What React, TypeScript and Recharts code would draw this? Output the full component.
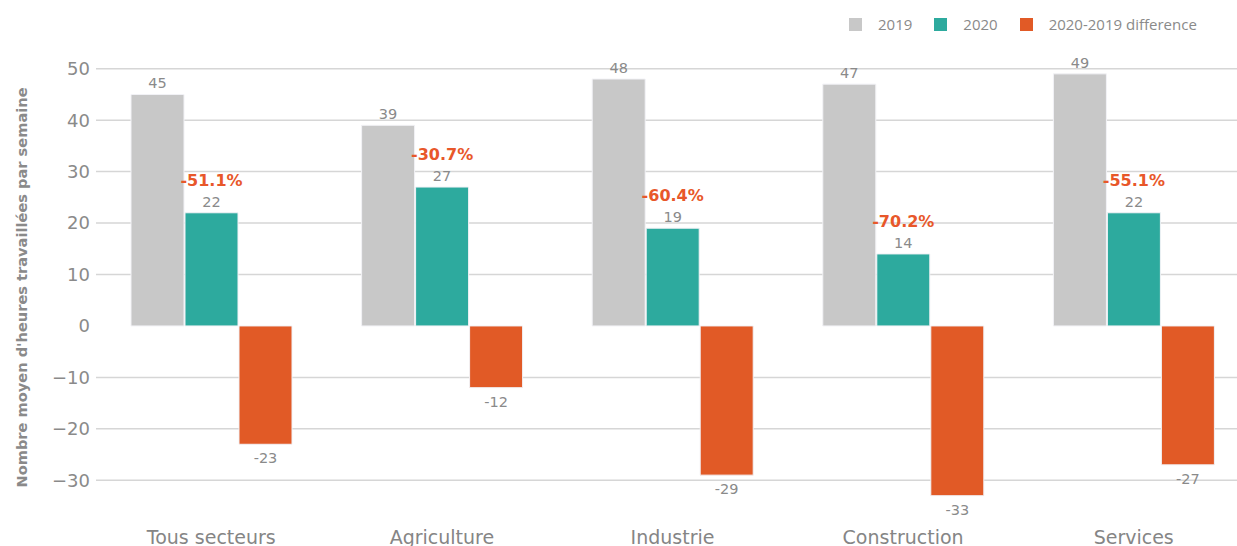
import { BarChart, Bar, XAxis, YAxis, CartesianGrid, LabelList } from "recharts";

const SECTORS = ["Tous secteurs", "Agriculture", "Industrie", "Construction", "Services"];
const HOURS_2019 = [45, 39, 48, 47, 49];
const HOURS_2020 = [22, 27, 19, 14, 22];
const DIFFERENCE = [-23, -12, -29, -33, -27];
const PCT_CHANGE = ["-51.1%", "-30.7%", "-60.4%", "-70.2%", "-55.1%"];
const Y_TICKS = [-30, -20, -10, 0, 10, 20, 30, 40, 50];
const GRID_VALUES = [-30, -20, -10, 10, 20, 30, 40, 50];

const GREY = "#C8C8C8";
const TEAL = "#2DAA9E";
const ORANGE = "#E15A26";
const TEXT = "#8A8A8A";
const FONT = "'DejaVu Sans', Verdana, sans-serif";

const data = SECTORS.map((name, i) => ({
  name,
  y2019: HOURS_2019[i],
  y2020: HOURS_2020[i],
  diff: DIFFERENCE[i],
  pct: PCT_CHANGE[i],
}));

// value above positive bars, below negative ones
const ValueLabel = (props: any) => {
  const { x, y, width, height, value } = props;
  const top = Math.min(y, y + height);
  const bottom = Math.max(y, y + height);
  const cx = x + width / 2;
  return (
    <text
      x={cx}
      y={value >= 0 ? top - 6 : bottom + 19}
      textAnchor="middle"
      fill={TEXT}
      fontSize={14.5}
      fontFamily={FONT}
    >
      {String(value)}
    </text>
  );
};

const PctLabel = (props: any) => {
  const { x, y, width, value } = props;
  return (
    <text
      x={x + width / 2}
      y={y - 27}
      textAnchor="middle"
      fill="#E8572A"
      fontSize={16}
      fontWeight="bold"
      fontFamily={FONT}
    >
      {value}
    </text>
  );
};

const legendItems = [
  { label: "2019", color: GREY },
  { label: "2020", color: TEAL },
  { label: "2020-2019 difference", color: ORANGE },
];

export default function App() {
  return (
    <div
      style={{
        position: "absolute",
        left: 0,
        top: 0,
        width: 1237,
        height: 546,
        overflow: "hidden",
        background: "#fff",
      }}
    >
      <div
        style={{
          position: "absolute",
          left: 849,
          top: 14,
          display: "flex",
          alignItems: "center",
          fontFamily: "'Open Sans', sans-serif",
          fontSize: 15,
          color: TEXT,
          zIndex: 2,
          whiteSpace: "nowrap",
        }}
      >
        {legendItems.map((it) => (
          <div key={it.label} style={{ display: "flex", alignItems: "center", marginRight: 22 }}>
            <span style={{ width: 13, height: 13, background: it.color, marginRight: 16 }} />
            <span>{it.label}</span>
          </div>
        ))}
      </div>

      <BarChart
        width={1262}
        height={560}
        data={data}
        margin={{ top: 43, right: 13, bottom: 14, left: 0 }}
        barSize={53}
        barGap={1}
      >
        <CartesianGrid
          vertical={false}
          horizontalValues={GRID_VALUES}
          stroke="#D6D6D6"
          strokeWidth={1.5}
        />
        <XAxis
          dataKey="name"
          axisLine={false}
          tickLine={false}
          tickMargin={19}
          height={40}
          tick={{ fill: "#858585", fontSize: 19, fontFamily: FONT }}
        />
        <YAxis
          type="number"
          domain={[-35, 55]}
          ticks={Y_TICKS}
          width={96}
          axisLine={false}
          tickLine={false}
          tickMargin={0}
          tickFormatter={(v: number) => String(v).replace("-", "\u2212")}
          tick={{ fill: TEXT, fontSize: 18, fontFamily: FONT }}
          label={{
            content: ({ viewBox }: any) => {
              const cx = viewBox.x + 21;
              const cy = viewBox.y + viewBox.height / 2 + 13;
              return (
                <text
                  x={cx}
                  y={cy}
                  transform={`rotate(-90, ${cx}, ${cy})`}
                  textAnchor="middle"
                  dominantBaseline="central"
                  fill={TEXT}
                  fontSize={14.6}
                  fontWeight="bold"
                  fontFamily={FONT}
                >
                  Nombre moyen d'heures travaillées par semaine
                </text>
              );
            },
          }}
        />
        <Bar dataKey="y2019" fill={GREY} stroke="#F2F2F6" strokeWidth={1} isAnimationActive={false}>
          <LabelList dataKey="y2019" content={ValueLabel} />
        </Bar>
        <Bar dataKey="y2020" fill={TEAL} stroke="#F2F2F6" strokeWidth={1} isAnimationActive={false}>
          <LabelList dataKey="pct" content={PctLabel} />
          <LabelList dataKey="y2020" content={ValueLabel} />
        </Bar>
        <Bar dataKey="diff" fill={ORANGE} stroke="#F2F2F6" strokeWidth={1} isAnimationActive={false}>
          <LabelList dataKey="diff" content={ValueLabel} />
        </Bar>
      </BarChart>
    </div>
  );
}
